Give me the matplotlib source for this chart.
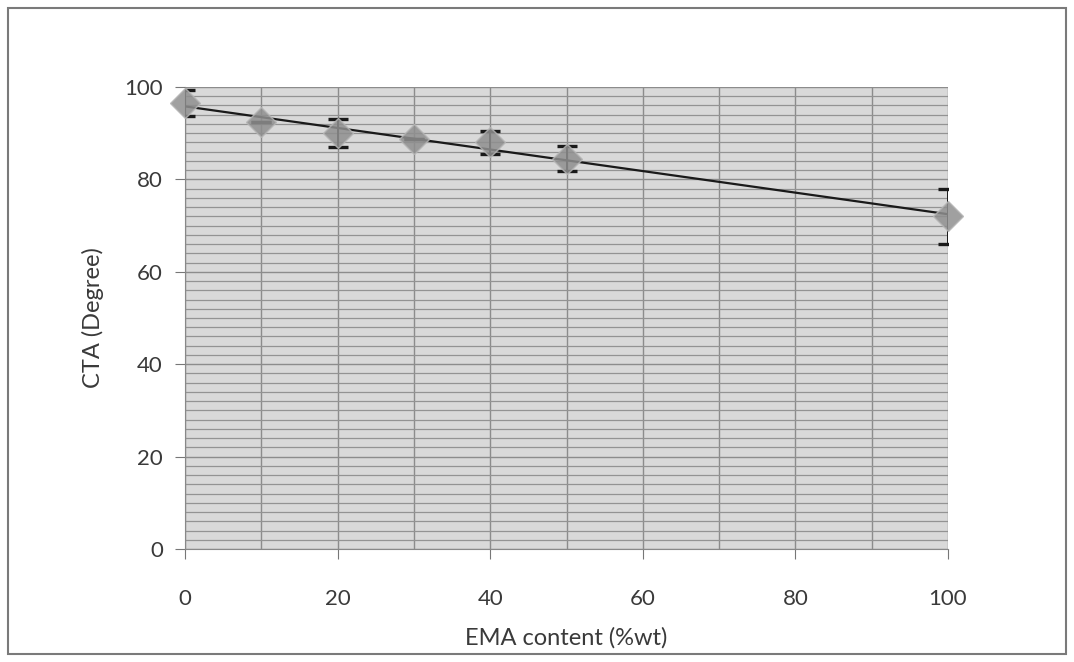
import numpy as np
import matplotlib
matplotlib.use('Agg')
import matplotlib.pyplot as plt
from matplotlib.patches import Rectangle

plt.rcParams['font.family'] = ['Lato', 'DejaVu Sans']

# EMA content (%wt) and contact angle (degree)
ema = [0, 10, 20, 30, 40, 50, 100]
cta = [96.5, 92.5, 90.0, 88.8, 88.0, 84.5, 72.0]
cta_err = [2.8, 0.0, 3.0, 0.0, 2.5, 2.7, 6.0]

x_ticks = [0, 20, 40, 60, 80, 100]
y_ticks = [0, 20, 40, 60, 80, 100]

fig = plt.figure(figsize=(10.74, 6.62), dpi=100)
ax = fig.add_axes([185 / 1074, 1 - 549 / 662, (948 - 185) / 1074, (549 - 87) / 662])

# scanned-looking plot area
ax.set_facecolor('#d9d9d9')
ax.set_xlim(0, 100)
ax.set_ylim(0, 100)
ax.set_xticks(x_ticks)
ax.set_yticks(y_ticks)
ax.set_xticks(np.arange(0, 101, 10), minor=True)
ax.set_yticks(np.arange(0, 101, 2), minor=True)
ax.grid(which='minor', axis='y', color='#939393', linewidth=0.9)
ax.grid(which='both', axis='x', color='#8c8c8c', linewidth=1.0)
ax.grid(which='major', axis='y', color='#8c8c8c', linewidth=1.0)
ax.set_axisbelow(True)

for side in ['top', 'right']:
    ax.spines[side].set_visible(False)
ax.spines['left'].set_color('#888888')
ax.spines['bottom'].set_color('#888888')
ax.tick_params(which='major', length=7, color='#777777', labelsize=16,
               labelcolor='#3a3a3a')
ax.tick_params(axis='y', pad=9)
ax.tick_params(axis='x', pad=22)
ax.tick_params(which='minor', length=0)

# trend line
k, b = np.polyfit(ema, cta, 1)
xs = np.array([0, 100])
ax.plot(xs, k * xs + b, color='#1a1a1a', linewidth=1.6, zorder=3)

ax.errorbar(ema, cta, yerr=cta_err, fmt='none', ecolor='#1a1a1a',
            elinewidth=1.4, capsize=7, capthick=2.4, zorder=4)
ax.plot(ema, cta, linestyle='none', marker='D', markersize=15,
        markerfacecolor='#8f8f8f', markeredgecolor='#b5b5b5',
        markeredgewidth=1.0, alpha=0.85, zorder=5, clip_on=False)

ax.set_xlabel('EMA content (%wt)', fontsize=17, color='#3a3a3a')
ax.set_ylabel('CTA (Degree)', fontsize=17, color='#3a3a3a')
ax.xaxis.set_label_coords(0.5, -(638 - 549) / 462, transform=ax.transAxes)
ax.yaxis.set_label_coords(-(185 - 93) / 763, 0.5, transform=ax.transAxes)
ax.xaxis.label.set_va('center')
ax.yaxis.label.set_va('center')

# outer chart border
fig.patches.append(Rectangle((8 / 1074, 8 / 662), 1058 / 1074, 646 / 662,
                             transform=fig.transFigure, fill=False,
                             edgecolor='#7a7a7a', linewidth=1.5))

fig.savefig('out.png', dpi=100)
